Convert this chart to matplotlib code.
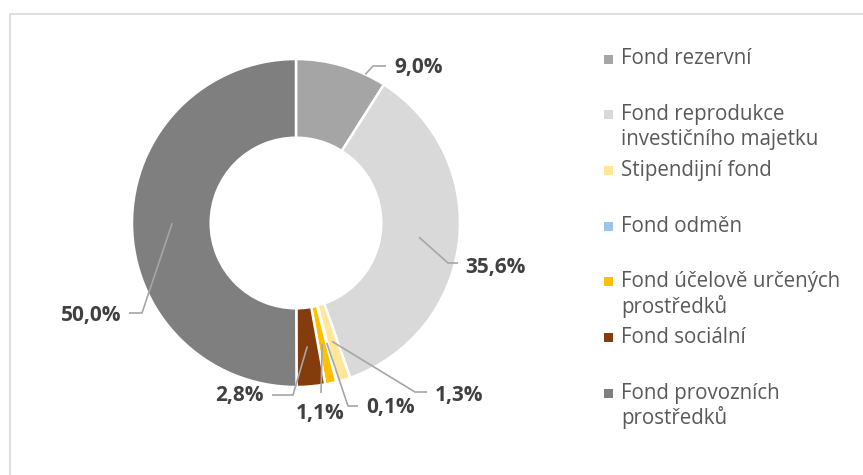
import matplotlib
matplotlib.use('Agg')
import matplotlib.pyplot as plt
import numpy as np
from matplotlib.patches import Rectangle

categories = ["Fond rezervní",
              "Fond reprodukce\ninvestičního majetku",
              "Stipendijní fond",
              "Fond odměn",
              "Fond účelově určených\nprostředků",
              "Fond sociální",
              "Fond provozních\nprostředků"]
values = [9.0, 35.6, 1.3, 0.1, 1.1, 2.8, 50.0]
value_labels = ["9,0%", "35,6%", "1,3%", "0,1%", "1,1%", "2,8%", "50,0%"]
colors = ["#A5A5A5", "#D9D9D9", "#FFE699", "#9DC3E6", "#FFC000", "#843C0C", "#7F7F7F"]

plt.rcParams['font.family'] = ['Open Sans', 'DejaVu Sans']

W, H = 863, 475
fig = plt.figure(figsize=(W / 100, H / 100), dpi=100)
ax = fig.add_axes([0, 0, 1, 1])


def Y(y):
    return H - y


cx, cy, R = 296, 223, 164
wedges, _ = ax.pie(values, colors=colors, startangle=90, counterclock=False,
                   center=(cx, Y(cy)), radius=R, frame=True,
                   wedgeprops=dict(width=R * 0.48, edgecolor='white', linewidth=1.8))
ax.set_xlim(0, W)
ax.set_ylim(0, H)
ax.set_aspect('equal')
ax.axis('off')

# chart border
ax.add_patch(Rectangle((10, Y(14) - 500), 900, 500, fill=False,
                       edgecolor='#D9D9D9', linewidth=1.2, clip_on=False))

# leader lines and labels (styling positions)
leaders = [
    dict(r=1.0, ang=25, pts=[(373, 66), (386, 66)], text=(394, 68), ha='left'),
    dict(r=0.755, pts=[(448, 263), (458, 263)], text=(465, 267), ha='left'),
    dict(r=0.755, pts=[(415, 392), (427, 392)], text=(435, 395), ha='left'),
    dict(r=0.755, pts=[(348, 406), (358, 406)], text=(366, 408), ha='left'),
    dict(r=0.755, pts=[(321, 393)], text=(320, 414), ha='center'),
    dict(r=0.755, pts=[(293, 395), (272, 395)], text=(264, 396), ha='right'),
    dict(r=0.755, pts=[(142, 313), (129, 313)], text=(121, 316), ha='right'),
]

total = sum(values)
cum = np.cumsum([0] + values[:-1])
for i, (v, lab) in enumerate(zip(values, value_labels)):
    st = leaders[i]
    mid = (cum[i] + v / 2) / total * 360
    ang = st.get('ang', mid)
    r = st['r'] * R
    sx = cx + r * np.sin(np.radians(ang))
    sy = cy - r * np.cos(np.radians(ang))
    xs = [sx] + [p[0] for p in st['pts']]
    ys = [Y(sy)] + [Y(p[1]) for p in st['pts']]
    ax.plot(xs, ys, color='#A6A6A6', linewidth=1.2, solid_capstyle='butt')
    tx, ty = st['text']
    ax.text(tx, Y(ty), lab, ha=st['ha'], va='center', fontsize=15,
            fontweight='bold', color='#404040')

# legend
ly0, lstep, lline = 59, 55.7, 24.5
for i, (cat, col) in enumerate(zip(categories, colors)):
    y = ly0 + i * lstep
    ax.add_patch(Rectangle((604, Y(y) - 4.5), 9, 9, facecolor=col, edgecolor='none'))
    for j, line in enumerate(cat.split('\n')):
        ax.text(621, Y(y + j * lline), line, ha='left', va='center',
                fontsize=14.8, color='#595959')

fig.savefig('out.png', dpi=100)
